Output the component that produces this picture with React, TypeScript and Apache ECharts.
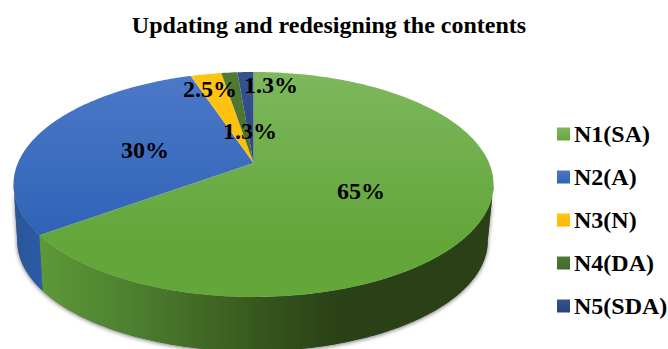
import React, { useEffect, useRef } from "react";
import * as echarts from "echarts";

const categories = ["N1(SA)", "N2(A)", "N3(N)", "N4(DA)", "N5(SDA)"];
const shares = [65, 30, 2.5, 1.3, 1.3];
const shareLabels = ["65%", "30%", "2.5%", "1.3%", "1.3%"];
const chartTitle = "Updating and redesigning the contents";

// Hand-placed label centres, one per slice, in pixels.
const labelAnchors = [
  [361, 191],
  [145, 150],
  [210, 89],
  [250, 131],
  [271, 85],
];

// Face and legend colours, top to bottom of the pie.
const faceStops = [
  ["#7db85d", "#63a63a"],
  ["#4c79c8", "#2f62b6"],
  ["#ffc414", "#fdb900"],
  ["#507a36", "#43692b"],
  ["#35528f", "#264478"],
];

const FONT = '"Liberation Serif", "Times New Roman", serif';

// Perspective projection of the pie's disc onto the page.
const APEX_X = 253.5;
const APEX_Y = 163;
const RADIUS_X = 235.6;
const RADIUS_Y = 108.4;
const TILT = 0.191;
const FLOOR_SCALE = 0.98;
const FLOOR_Y = 220;
const FLOOR_SHIFT_X = -1;
// Angles where the disc's outline turns away from the viewer.
const RIM_START = 101;
const RIM_END = 259;

function project(deg: number, floor: boolean): number[] {
  const a = (deg * Math.PI) / 180;
  const u = Math.sin(a);
  const v = -Math.cos(a);
  const w = 1 - TILT * v;
  const s = floor ? FLOOR_SCALE : 1;
  return [
    APEX_X + (floor ? FLOOR_SHIFT_X : 0) + (s * RADIUS_X * u) / w,
    (floor ? FLOOR_Y : APEX_Y) + (s * RADIUS_Y * v) / w,
  ];
}

function arc(from: number, to: number, floor: boolean): number[][] {
  const pts: number[][] = [];
  const n = Math.max(2, Math.ceil(Math.abs(to - from)));
  for (let i = 0; i <= n; i++) pts.push(project(from + ((to - from) * i) / n, floor));
  return pts;
}

const sideFill = new echarts.graphic.LinearGradient(
  40,
  0,
  340,
  0,
  [
    { offset: 0, color: "#5c9937" },
    { offset: 0.3, color: "#4e8030" },
    { offset: 0.7, color: "#385a1e" },
    { offset: 1, color: "#2a4016" },
  ],
  true
);
const blueSideFill = new echarts.graphic.LinearGradient(
  14,
  0,
  46,
  0,
  [
    { offset: 0, color: "#2a5698" },
    { offset: 1, color: "#2c5caa" },
  ],
  true
);

const total = shares.reduce((a, b) => a + b, 0);

function renderSlice(params: any, api: any) {
  const i = params.seriesIndex;
  const value = api.value(0);
  const before = shares.slice(0, i).reduce((a, b) => a + b, 0);
  const start = (before / total) * 360;
  const end = start + (value / total) * 360;
  const children: any[] = [];

  // The rim is only visible on the near half of the disc.
  const rimFrom = Math.max(start, RIM_START);
  const rimTo = Math.min(end, RIM_END);
  if (rimTo > rimFrom) {
    const rim = [...arc(rimFrom, rimTo, false), ...arc(rimTo, rimFrom, true)];
    children.push({
      type: "polygon",
      z2: 0,
      shape: { points: rim },
      style: {
        fill: "#555",
        shadowBlur: 4,
        shadowColor: "rgba(0,0,0,0.55)",
        shadowOffsetY: 1,
      },
    });
    children.push({
      type: "polygon",
      z2: 1,
      shape: { points: rim },
      style: { fill: i === 0 ? sideFill : blueSideFill },
    });
  }

  children.push({
    type: "polygon",
    z2: 5,
    shape: { points: [[APEX_X, APEX_Y], ...arc(start, end, false)] },
    style: {
      fill: new echarts.graphic.LinearGradient(
        0,
        72,
        0,
        240,
        [
          { offset: 0, color: faceStops[i][0] },
          { offset: 1, color: faceStops[i][1] },
        ],
        true
      ),
    },
  });

  children.push({
    type: "text",
    z2: 20,
    x: labelAnchors[i][0],
    y: labelAnchors[i][1],
    style: {
      text: shareLabels[i],
      font: `bold 24px ${FONT}`,
      fill: "#000",
      align: "center",
      verticalAlign: "middle",
    },
  });

  return { type: "group", children };
}

export default function App() {
  const ref = useRef<HTMLDivElement>(null);

  useEffect(() => {
    const chart = echarts.init(ref.current!, null, { renderer: "svg" });
    chart.setOption({
      animation: false,
      backgroundColor: "#fff",
      title: {
        text: chartTitle,
        left: 324,
        top: 8,
        textAlign: "center",
        textStyle: { fontFamily: FONT, fontWeight: "bold", fontSize: 24, color: "#000" },
      },
      legend: {
        orient: "vertical",
        left: 557,
        top: 122,
        icon: "rect",
        itemWidth: 13,
        itemHeight: 13,
        itemGap: 19,
        padding: 0,
        data: categories,
        textStyle: { fontFamily: FONT, fontWeight: "bold", fontSize: 24, color: "#000", padding: [0, 0, 0, -1] },
      },
      series: categories.map((name, i) => ({
        type: "custom",
        name,
        coordinateSystem: "none",
        renderItem: renderSlice,
        data: [[shares[i]]],
        itemStyle: {
          color: new echarts.graphic.LinearGradient(0, 0, 0, 1, [
            { offset: 0, color: faceStops[i][0] },
            { offset: 1, color: faceStops[i][1] },
          ]),
        },
      })),
    });
    return () => chart.dispose();
  }, []);

  return <div ref={ref} style={{ position: "absolute", left: 0, top: 0, width: 668, height: 349 }} />;
}
